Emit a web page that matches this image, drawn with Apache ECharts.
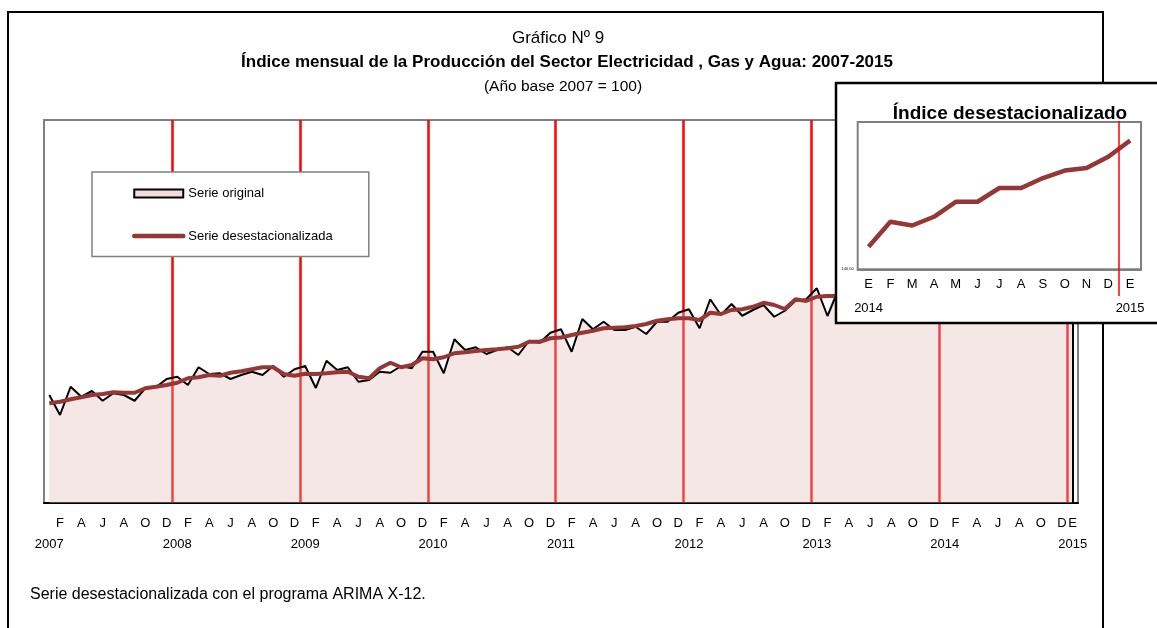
<!DOCTYPE html>
<html>
<head>
<meta charset="utf-8">
<script src="https://cdn.jsdelivr.net/npm/echarts@6/dist/echarts.min.js"></script>
<style>
html,body{margin:0;padding:0;background:#fff;}
#chart{width:1157px;height:628px;}
</style>
</head>
<body>
<div id="chart"></div>
<script>
// ---- data ----
const years = [2007, 2008, 2009, 2010, 2011, 2012, 2013, 2014, 2015];
const monthLetters = ['E', 'F', 'M', 'A', 'M', 'J', 'J', 'A', 'S', 'O', 'N', 'D'];

const original = [
  100.2, 92.2, 103.5, 99.5, 101.8, 97.9, 100.9, 100.2, 97.9, 102.9, 103.3, 106.6,
  107.5, 104.2, 111.3, 108.6, 108.9, 106.6, 108.2, 109.5, 108.2, 111.8, 107.5, 110.5,
  111.8, 103.0, 113.9, 110.2, 111.3, 105.5, 106.2, 109.5, 109.1, 111.8, 110.9, 117.5,
  117.5, 108.9, 122.5, 118.2, 119.3, 116.6, 118.2, 119.3, 116.2, 121.9, 121.1, 125.1,
  126.5, 117.5, 130.6, 126.5, 129.5, 126.2, 126.2, 127.5, 124.6, 129.5, 129.5, 133.1,
  134.5, 126.9, 138.5, 132.2, 136.6, 131.9, 134.2, 136.2, 131.5, 133.9, 137.9, 138.5,
  142.9, 131.8, 142.2, 138.0, 141.5, 138.2, 140.3, 138.0, 140.5, 143.0, 141.8, 142.8,
  143.8, 135.5, 147.5, 143.0, 148.0, 144.0, 148.2, 145.0, 148.5, 151.0, 149.5, 150.5,
  152.0
];

const deseason = [
  96.9, 97.5, 98.5, 99.3, 100.2, 100.6, 101.3, 101.1, 101.1, 102.9, 103.5, 104.2,
  105.1, 106.9, 107.3, 108.2, 107.9, 109.1, 109.7, 110.5, 111.3, 111.3, 108.6, 107.9,
  108.7, 108.6, 108.9, 109.3, 109.5, 107.5, 106.9, 110.9, 113.1, 111.3, 112.2, 114.9,
  114.5, 115.3, 116.9, 117.3, 117.8, 118.2, 118.5, 118.9, 119.5, 121.5, 121.5, 122.9,
  123.2, 124.2, 125.1, 125.9, 126.9, 127.1, 127.3, 127.8, 128.6, 129.9, 130.5, 130.9,
  130.9, 130.2, 133.1, 132.6, 134.2, 134.5, 135.5, 137.1, 136.2, 134.6, 138.5, 137.8,
  139.5, 139.8, 139.8, 140.0, 140.4, 140.6, 140.9, 141.2, 141.4, 141.6, 141.9, 142.1,
  142.3, 144.3, 144.0, 144.7, 145.9, 145.9, 147.0, 147.0, 147.8, 148.4, 148.6, 149.5,
  150.8
];

const insetStartYear = 2014;      // inset shows Jan 2014 .. Jan 2015
const insetMinLabel = '140,50';
const insetMin = 140.5;
const insetMax = 152.28;
const mainMin = 57;
const mainMax = 210.2;

// ---- derived ----
const cats = [];
years.forEach((y, yi) => {
  monthLetters.forEach((m, mi) => {
    if (yi === years.length - 1 && mi > 0) return;
    cats.push(m + ' ' + y);
  });
});
const lastIdx = cats.length - 1;
const insetStart = (insetStartYear - years[0]) * 12;
const insetCats = cats.slice(insetStart);
const insetData = deseason.slice(insetStart);
const insetLast = insetCats.length - 1;

const FONT = "'Liberation Sans', Arial, sans-serif";

function mainLabel(value, index) {
  const m = index % 12;
  const y = years[Math.floor(index / 12)];
  if (m === 0) return (index === lastIdx ? monthLetters[0] : ' ') + '\n' + y;
  if (m % 2 === 1) return monthLetters[m];
  return '';
}
function insetLabel(value, index) {
  const parts = value.split(' ');
  if (index === 0 || index === insetLast) return parts[0] + '\n' + parts[1];
  return parts[0];
}

const chart = echarts.init(document.getElementById('chart'), null, {renderer: 'canvas'});
chart.setOption({
  animation: false,
  backgroundColor: '#fff',
  graphic: [
    {type: 'rect', silent: true, z: 1, shape: {x: 8, y: 12, width: 1095, height: 650},
     style: {fill: 'none', stroke: '#000', lineWidth: 2}},
    {type: 'rect', silent: true, z: 50, shape: {x: 836, y: 83, width: 400, height: 240},
     style: {fill: '#fff', stroke: '#000', lineWidth: 2.5}},
    {type: 'text', silent: true, z: 5, x: 558, y: 38,
     style: {text: 'Gráfico Nº 9', fontSize: 17, fontFamily: FONT, fill: '#000', align: 'center', verticalAlign: 'middle'}},
    {type: 'text', silent: true, z: 5, x: 567, y: 62,
     style: {text: 'Índice mensual de la Producción del Sector Electricidad , Gas y Agua: 2007-2015', fontSize: 17, fontWeight: 'bold', fontFamily: FONT, fill: '#000', align: 'center', verticalAlign: 'middle'}},
    {type: 'text', silent: true, z: 5, x: 563, y: 87,
     style: {text: '(Año base 2007 = 100)', fontSize: 15.5, fontFamily: FONT, fill: '#000', align: 'center', verticalAlign: 'middle'}},
    {type: 'text', silent: true, z: 60, x: 1010, y: 114,
     style: {text: 'Índice desestacionalizado', fontSize: 19, fontWeight: 'bold', fontFamily: FONT, fill: '#000', align: 'center', verticalAlign: 'middle'}},
    {type: 'text', silent: true, z: 5, x: 30, y: 595,
     style: {text: 'Serie desestacionalizada con el programa ARIMA X-12.', fontSize: 16, fontFamily: FONT, fill: '#000', align: 'left', verticalAlign: 'middle'}}
  ],
  legend: {
    orient: 'vertical', left: 92, top: 172,
    padding: [15, 36, 14, 40],
    itemWidth: 49, itemHeight: 8, itemGap: 29.5,
    backgroundColor: '#fff', borderColor: '#808080', borderWidth: 1.5,
    selectedMode: false,
    textStyle: {fontSize: 13, color: '#000', fontFamily: FONT},
    data: [
      {name: 'Serie original', icon: 'rect', itemStyle: {color: '#f2dcdb', borderColor: '#000', borderWidth: 2}},
      {name: 'Serie desestacionalizada', itemStyle: {color: 'rgba(0,0,0,0)', borderWidth: 0},
       lineStyle: {color: '#953735', width: 4.5, cap: 'round'}}
    ]
  },
  grid: [
    {left: 44, top: 120, width: 1034, height: 383, show: true, borderColor: '#808080', borderWidth: 2, z: 0},
    {left: 857.7, top: 122, width: 283.3, height: 147.3, show: true, borderColor: '#808080', borderWidth: 2, z: 51},
    {left: 857.7, top: 121, width: 283.3, height: 175, z: 51}
  ],
  xAxis: [
    {type: 'category', gridIndex: 0, data: cats, boundaryGap: true,
     axisLine: {lineStyle: {color: '#000', width: 2}},
     axisTick: {inside: true, length: 4, interval: (i) => i % 6 === 0, lineStyle: {color: '#000', width: 1.5}},
     splitLine: {show: true, showMinLine: false, showMaxLine: false,
       interval: (i) => i % 12 === 0, lineStyle: {color: '#ff0000', width: 2.5}},
     axisLabel: {interval: 0, formatter: mainLabel, fontSize: 13, lineHeight: 21, margin: 10, color: '#000', fontFamily: FONT}},
    {type: 'category', gridIndex: 0, data: cats, boundaryGap: true, position: 'bottom',
     axisLine: {show: false},
     axisTick: {interval: 0, length: 2, lineStyle: {color: '#444', width: 1}},
     axisLabel: {show: false}, splitLine: {show: false}},
    {type: 'category', gridIndex: 1, data: insetCats, boundaryGap: true, z: 52,
     axisLine: {lineStyle: {color: '#808080', width: 2}},
     axisTick: {interval: 0, length: 4, lineStyle: {color: '#222', width: 1}},
     splitLine: {show: false},
     axisLabel: {interval: 0, formatter: insetLabel, fontSize: 13, lineHeight: 24, margin: 3, color: '#000', fontFamily: FONT}},
    {type: 'category', gridIndex: 2, data: insetCats, boundaryGap: true, z: 54,
     axisLine: {show: false}, axisTick: {show: false}, axisLabel: {show: false},
     splitLine: {show: true, showMinLine: false, showMaxLine: false,
       interval: (i) => i === 0 || i === insetLast,
       lineStyle: {color: '#ff0000', width: 1.5}}}
  ],
  yAxis: [
    {type: 'value', gridIndex: 0, min: mainMin, max: mainMax, show: false},
    {type: 'value', gridIndex: 1, min: insetMin, max: insetMax, z: 52,
     axisLine: {show: false}, axisTick: {show: false}, splitLine: {show: false},
     axisLabel: {fontSize: 4, margin: 4, color: '#000', fontFamily: FONT, showMinLabel: true, showMaxLabel: false,
       formatter: (v) => (Math.abs(v - insetMin) < 1e-6 ? insetMinLabel : '')}},
    {type: 'value', gridIndex: 2, min: 0, max: 1,
     axisLine: {show: false}, axisTick: {show: false}, axisLabel: {show: false}, splitLine: {show: false}}
  ],
  series: [
    {name: 'Serie original', type: 'line', xAxisIndex: 0, yAxisIndex: 0, data: original,
     symbol: 'none', z: 2,
     lineStyle: {color: '#000', width: 2},
     itemStyle: {color: '#000'},
     areaStyle: {color: 'rgba(229,188,186,0.5)', origin: 'start'},
     emphasis: {disabled: true},
     markLine: {silent: true, symbol: 'none', label: {show: false},
       lineStyle: {color: '#000', width: 2, type: 'solid'},
       data: [{xAxis: cats[lastIdx]}]}},
    {name: 'Serie desestacionalizada', type: 'line', xAxisIndex: 0, yAxisIndex: 0, data: deseason,
     symbol: 'none', z: 3,
     lineStyle: {color: '#953735', width: 4},
     itemStyle: {color: '#953735'},
     emphasis: {disabled: true}},
    {name: 'inset', type: 'line', xAxisIndex: 2, yAxisIndex: 1, data: insetData,
     symbol: 'none', z: 53,
     lineStyle: {color: '#953735', width: 4.5},
     itemStyle: {color: '#953735'},
     emphasis: {disabled: true}}
  ]
});
</script>
</body>
</html>
